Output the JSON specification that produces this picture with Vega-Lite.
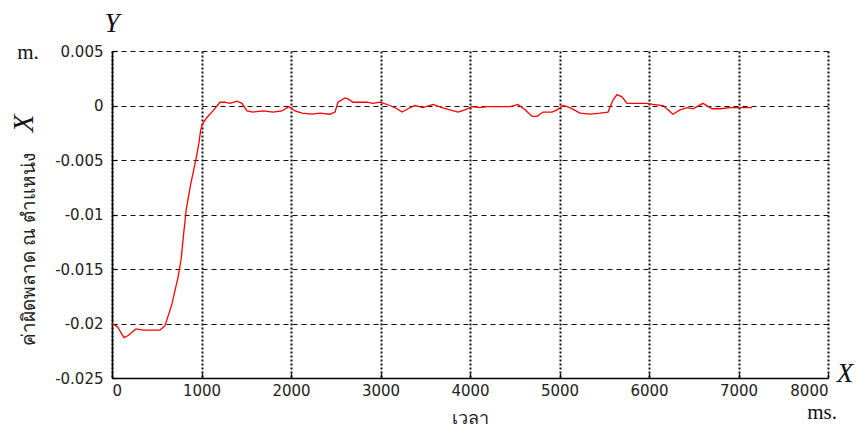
{
  "$schema": "https://vega.github.io/schema/vega-lite/v6.json",
  "autosize": "none",
  "width": 716,
  "height": 327,
  "padding": {"left": 112, "top": 51, "right": 28, "bottom": 55},
  "background": "white",
  "view": {"stroke": null},
  "config": {
    "axis": {"labelFont": "DejaVu Sans", "labelFontSize": 15, "labelColor": "#222", "titleFont": "Noto Sans", "titleFontSize": 18, "titleFontWeight": "normal", "titleColor": "#222", "domainColor": "#000", "domainWidth": 1.5, "tickColor": "#000", "tickWidth": 1.2}
  },
  "layer": [
    {
      "data": {"values": [
        {"t": 0, "e": -0.0200}, {"t": 60, "e": -0.0203}, {"t": 134, "e": -0.0213}, {"t": 180, "e": -0.0211},
        {"t": 268, "e": -0.0205}, {"t": 350, "e": -0.0206}, {"t": 536, "e": -0.0206}, {"t": 592, "e": -0.0202},
        {"t": 670, "e": -0.0182}, {"t": 737, "e": -0.0158}, {"t": 771, "e": -0.0142}, {"t": 800, "e": -0.0118},
        {"t": 830, "e": -0.0095}, {"t": 880, "e": -0.0072}, {"t": 939, "e": -0.0049}, {"t": 970, "e": -0.0035},
        {"t": 990, "e": -0.0023}, {"t": 1010, "e": -0.0017}, {"t": 1061, "e": -0.0011}, {"t": 1128, "e": -0.0005},
        {"t": 1207, "e": 0.0003}, {"t": 1263, "e": 0.0003}, {"t": 1318, "e": 0.0002}, {"t": 1397, "e": 0.0004},
        {"t": 1452, "e": 0.0002}, {"t": 1508, "e": -0.0005}, {"t": 1575, "e": -0.0006}, {"t": 1687, "e": -0.0005},
        {"t": 1799, "e": -0.0006}, {"t": 1899, "e": -0.0005}, {"t": 1978, "e": -0.0001}, {"t": 2045, "e": -0.0005},
        {"t": 2123, "e": -0.0007}, {"t": 2235, "e": -0.0008}, {"t": 2324, "e": -0.0007}, {"t": 2436, "e": -0.0008},
        {"t": 2492, "e": -0.0006}, {"t": 2525, "e": 0.0003}, {"t": 2603, "e": 0.0007}, {"t": 2637, "e": 0.0006},
        {"t": 2693, "e": 0.0003}, {"t": 2850, "e": 0.0003}, {"t": 2916, "e": 0.0002}, {"t": 2994, "e": 0.0003},
        {"t": 3106, "e": 0.0000}, {"t": 3184, "e": -0.0003}, {"t": 3240, "e": -0.0006}, {"t": 3307, "e": -0.0003},
        {"t": 3385, "e": 0.0000}, {"t": 3475, "e": -0.0002}, {"t": 3587, "e": 0.0001}, {"t": 3687, "e": -0.0002},
        {"t": 3777, "e": -0.0004}, {"t": 3866, "e": -0.0006}, {"t": 3944, "e": -0.0004}, {"t": 4022, "e": -0.0001},
        {"t": 4112, "e": -0.0002}, {"t": 4190, "e": -0.0001}, {"t": 4447, "e": -0.0001}, {"t": 4536, "e": 0.0001},
        {"t": 4615, "e": -0.0004}, {"t": 4693, "e": -0.0010}, {"t": 4749, "e": -0.0010}, {"t": 4816, "e": -0.0006},
        {"t": 4916, "e": -0.0006}, {"t": 4972, "e": -0.0004}, {"t": 5039, "e": 0.0000}, {"t": 5117, "e": -0.0002},
        {"t": 5229, "e": -0.0007}, {"t": 5341, "e": -0.0008}, {"t": 5453, "e": -0.0007}, {"t": 5542, "e": -0.0006},
        {"t": 5598, "e": 0.0005}, {"t": 5642, "e": 0.0010}, {"t": 5698, "e": 0.0008}, {"t": 5754, "e": 0.0002},
        {"t": 5821, "e": 0.0002}, {"t": 5978, "e": 0.0002}, {"t": 6045, "e": 0.0001}, {"t": 6156, "e": 0.0000},
        {"t": 6212, "e": -0.0004}, {"t": 6268, "e": -0.0008}, {"t": 6346, "e": -0.0004}, {"t": 6425, "e": -0.0002},
        {"t": 6492, "e": -0.0003}, {"t": 6603, "e": 0.0002}, {"t": 6704, "e": -0.0003}, {"t": 6793, "e": -0.0003},
        {"t": 6905, "e": -0.0002}, {"t": 7151, "e": -0.0002}
      ]},
      "mark": {"type": "line", "color": "#ff0000", "strokeWidth": 1.3},
      "encoding": {
        "x": {"field": "t", "type": "quantitative", "scale": {"domain": [0, 8000], "nice": false, "zero": false},
          "axis": {"values": [0, 1000, 2000, 3000, 4000, 5000, 6000, 7000, 8000], "format": "d", "title": "เวลา",
            "grid": true, "gridColor": "#111", "gridDash": [2, 2], "gridWidth": 2, "tickSize": -5, "labelPadding": 10,
            "titleBaseline": "middle", "titleY": 40}},
        "y": {"field": "e", "type": "quantitative", "scale": {"domain": [-0.025, 0.005], "nice": false, "zero": false},
          "axis": {"values": [-0.025, -0.02, -0.015, -0.01, -0.005, 0, 0.005], "labelExpr": "'' + datum.value", "title": "ค่าผิดพลาด ณ ตำแหน่ง",
            "grid": true, "gridColor": "#111", "gridDash": [5, 4], "gridWidth": 1, "tickSize": -5, "labelPadding": 14,
            "titleAngle": 270, "titleBaseline": "middle", "titleAlign": "center", "titleX": -84, "titleY": 198, "titleFontSize": 19}}
      }
    },
    {
      "data": {"values": [{"t": 0, "e": 0.0075, "label": "Y"}, {"t": 8190, "e": -0.0246, "label": "X"}]},
      "mark": {"type": "text", "font": "Liberation Serif", "fontStyle": "italic", "fontSize": 27, "color": "#111", "baseline": "middle", "align": "center"},
      "encoding": {
        "x": {"field": "t", "type": "quantitative"},
        "y": {"field": "e", "type": "quantitative"},
        "text": {"field": "label"}
      }
    },
    {
      "data": {"values": [{"t": -939, "e": 0.00486, "label": "m."}, {"t": 7933, "e": -0.0282, "label": "ms."}]},
      "mark": {"type": "text", "font": "Liberation Serif", "fontSize": 21, "color": "#111", "baseline": "middle", "align": "center"},
      "encoding": {
        "x": {"field": "t", "type": "quantitative"},
        "y": {"field": "e", "type": "quantitative"},
        "text": {"field": "label"}
      }
    },
    {
      "data": {"values": [{"t": -983, "e": -0.00165, "label": "X"}]},
      "mark": {"type": "text", "font": "Liberation Serif", "fontStyle": "italic", "fontSize": 29, "angle": 270, "color": "#111", "baseline": "middle", "align": "center"},
      "encoding": {
        "x": {"field": "t", "type": "quantitative"},
        "y": {"field": "e", "type": "quantitative"},
        "text": {"field": "label"}
      }
    }
  ]
}
